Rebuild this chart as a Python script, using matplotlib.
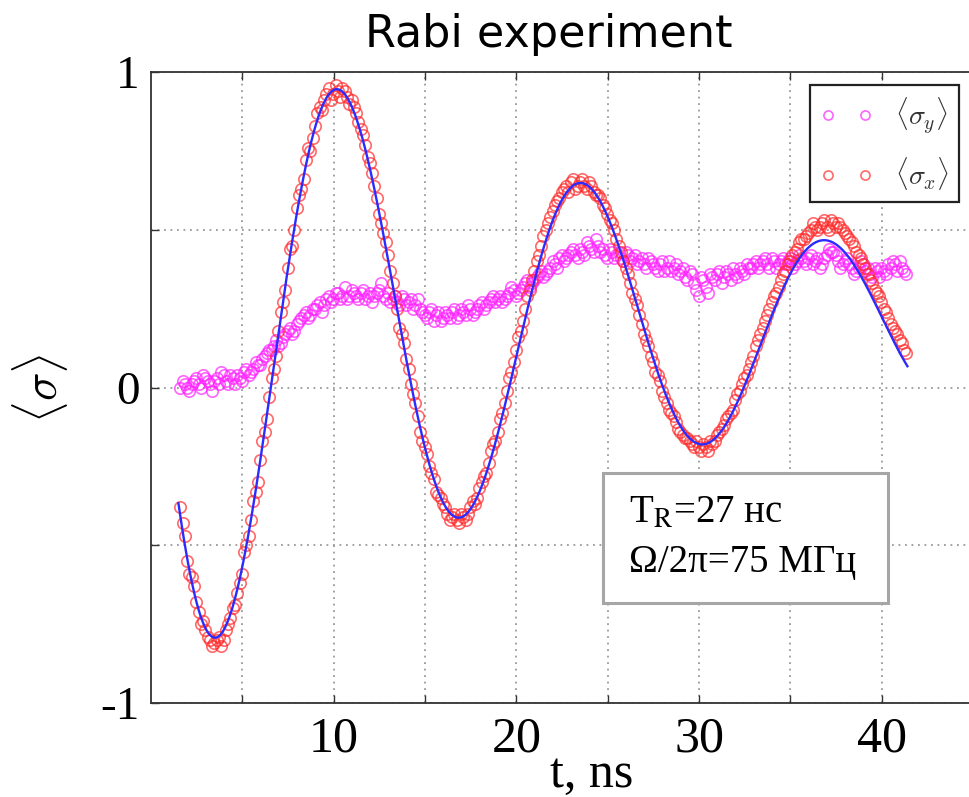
import numpy as np
import matplotlib
matplotlib.use("Agg")
import matplotlib.pyplot as plt
from matplotlib.patches import Rectangle
from matplotlib.ticker import FuncFormatter

# ---- measured data: samples every 0.125 ns starting at 1.6 ns ----
t_start_ns = 1.6
t_step_ns = 0.125

sigma_x = [
    -0.38, -0.43, -0.47, -0.55, -0.59, -0.60, -0.63, -0.68, -0.71, -0.75,
    -0.74, -0.77, -0.79, -0.80, -0.82, -0.81, -0.80, -0.79, -0.82, -0.80,
    -0.77, -0.75, -0.73, -0.70, -0.69, -0.65, -0.62, -0.59, -0.52, -0.50,
    -0.47, -0.42, -0.36, -0.33, -0.30, -0.23, -0.17, -0.14, -0.10, -0.03,
    0.03, 0.06, 0.10, 0.18, 0.24, 0.27, 0.31, 0.38, 0.44, 0.45,
    0.50, 0.57, 0.61, 0.63, 0.66, 0.72, 0.76, 0.75, 0.79, 0.83,
    0.87, 0.89, 0.88, 0.91, 0.93, 0.95, 0.91, 0.93, 0.96, 0.94,
    0.92, 0.95, 0.94, 0.92, 0.90, 0.91, 0.89, 0.87, 0.84, 0.82,
    0.80, 0.77, 0.73, 0.71, 0.68, 0.64, 0.60, 0.55, 0.52, 0.49,
    0.46, 0.42, 0.37, 0.33, 0.29, 0.25, 0.19, 0.17, 0.14, 0.09,
    0.06, 0.01, -0.02, -0.05, -0.09, -0.14, -0.17, -0.19, -0.21, -0.25,
    -0.27, -0.29, -0.33, -0.34, -0.35, -0.37, -0.38, -0.40, -0.42, -0.41,
    -0.40, -0.42, -0.43, -0.40, -0.41, -0.42, -0.40, -0.38, -0.36, -0.37,
    -0.35, -0.32, -0.30, -0.28, -0.27, -0.24, -0.20, -0.18, -0.17, -0.14,
    -0.10, -0.08, -0.05, -0.01, 0.03, 0.05, 0.08, 0.12, 0.16, 0.18,
    0.21, 0.25, 0.29, 0.31, 0.34, 0.37, 0.40, 0.42, 0.45, 0.48,
    0.50, 0.52, 0.54, 0.56, 0.58, 0.59, 0.60, 0.62, 0.63, 0.64,
    0.62, 0.65, 0.66, 0.63, 0.64, 0.65, 0.66, 0.64, 0.63, 0.65,
    0.64, 0.62, 0.61, 0.61, 0.60, 0.58, 0.57, 0.55, 0.53, 0.52,
    0.50, 0.47, 0.45, 0.43, 0.40, 0.38, 0.36, 0.33, 0.30, 0.28,
    0.26, 0.23, 0.20, 0.17, 0.15, 0.13, 0.10, 0.08, 0.05, 0.04,
    0.02, -0.01, -0.03, -0.05, -0.07, -0.08, -0.09, -0.11, -0.13, -0.14,
    -0.15, -0.16, -0.16, -0.17, -0.18, -0.19, -0.17, -0.19, -0.20, -0.18,
    -0.19, -0.20, -0.17, -0.18, -0.17, -0.15, -0.14, -0.13, -0.12, -0.10,
    -0.09, -0.08, -0.07, -0.04, -0.02, -0.01, 0.01, 0.03, 0.04, 0.06,
    0.08, 0.10, 0.13, 0.15, 0.17, 0.19, 0.21, 0.23, 0.25, 0.27,
    0.29, 0.30, 0.32, 0.34, 0.36, 0.37, 0.39, 0.40, 0.42, 0.43,
    0.44, 0.46, 0.47, 0.47, 0.48, 0.49, 0.50, 0.52, 0.51, 0.50,
    0.51, 0.52, 0.53, 0.51, 0.50, 0.53, 0.52, 0.51, 0.52, 0.51,
    0.50, 0.49, 0.48, 0.47, 0.46, 0.45, 0.43, 0.42, 0.41, 0.39,
    0.38, 0.36, 0.34, 0.33, 0.31, 0.30, 0.29, 0.27, 0.25, 0.24,
    0.22, 0.20, 0.19, 0.18, 0.17, 0.15, 0.14, 0.12, 0.11,
]

sigma_y = [
    0.00, 0.02, 0.01, 0.00, -0.01, 0.01, 0.02, 0.03, 0.01, 0.00,
    0.04, 0.03, 0.02, 0.01, -0.01, 0.02, 0.03, 0.01, 0.05, 0.04,
    0.02, 0.01, 0.04, 0.03, 0.01, 0.04, 0.03, 0.02, 0.05, 0.06,
    0.04, 0.05, 0.06, 0.08, 0.07, 0.07, 0.09, 0.10, 0.11, 0.12,
    0.12, 0.13, 0.15, 0.13, 0.14, 0.16, 0.17, 0.18, 0.19, 0.17,
    0.18, 0.20, 0.21, 0.22, 0.23, 0.24, 0.22, 0.23, 0.25, 0.25,
    0.26, 0.27, 0.24, 0.26, 0.28, 0.29, 0.27, 0.28, 0.30, 0.30,
    0.28, 0.29, 0.32, 0.28, 0.29, 0.31, 0.30, 0.29, 0.28, 0.30,
    0.31, 0.28, 0.29, 0.30, 0.27, 0.29, 0.30, 0.31, 0.33, 0.29,
    0.28, 0.30, 0.27, 0.28, 0.29, 0.27, 0.26, 0.29, 0.28, 0.26,
    0.27, 0.28, 0.25, 0.26, 0.28, 0.25, 0.24, 0.23, 0.22, 0.24,
    0.25, 0.21, 0.23, 0.24, 0.21, 0.22, 0.24, 0.23, 0.22, 0.24,
    0.25, 0.22, 0.23, 0.25, 0.24, 0.23, 0.26, 0.25, 0.23, 0.24,
    0.25, 0.26, 0.27, 0.25, 0.26, 0.27, 0.28, 0.29, 0.27, 0.28,
    0.29, 0.27, 0.28, 0.29, 0.30, 0.32, 0.31, 0.29, 0.30, 0.31,
    0.32, 0.33, 0.34, 0.32, 0.33, 0.34, 0.35, 0.36, 0.37, 0.35,
    0.36, 0.37, 0.38, 0.40, 0.39, 0.38, 0.41, 0.42, 0.40, 0.41,
    0.42, 0.43, 0.44, 0.42, 0.41, 0.44, 0.43, 0.42, 0.46, 0.45,
    0.44, 0.43, 0.47, 0.45, 0.43, 0.44, 0.42, 0.41, 0.44, 0.43,
    0.41, 0.42, 0.43, 0.41, 0.40, 0.43, 0.42, 0.40, 0.41, 0.42,
    0.39, 0.40, 0.41, 0.39, 0.38, 0.41, 0.40, 0.39, 0.38, 0.37,
    0.39, 0.40, 0.37, 0.38, 0.40, 0.37, 0.38, 0.39, 0.36, 0.37,
    0.38, 0.35, 0.34, 0.37, 0.36, 0.33, 0.31, 0.29, 0.35, 0.34,
    0.32, 0.30, 0.36, 0.35, 0.34, 0.36, 0.37, 0.33, 0.35, 0.37,
    0.36, 0.34, 0.38, 0.36, 0.35, 0.38, 0.37, 0.36, 0.39, 0.38,
    0.38, 0.39, 0.40, 0.38, 0.39, 0.40, 0.41, 0.39, 0.38, 0.41,
    0.40, 0.38, 0.39, 0.40, 0.41, 0.39, 0.40, 0.41, 0.38, 0.39,
    0.40, 0.42, 0.41, 0.40, 0.39, 0.41, 0.42, 0.39, 0.40, 0.41,
    0.38, 0.39, 0.41, 0.42, 0.44, 0.43, 0.43, 0.42, 0.40, 0.38,
    0.39, 0.40, 0.41, 0.39, 0.38, 0.36, 0.37, 0.38, 0.40, 0.39,
    0.37, 0.38, 0.36, 0.35, 0.38, 0.37, 0.35, 0.38, 0.37, 0.36,
    0.39, 0.38, 0.40, 0.39, 0.37, 0.40, 0.38, 0.37, 0.36,
]

# ---- damped Rabi fit ----
T_R_ns = 27.0            # decay time
rabi_freq_mhz = 75.0     # Omega / 2pi
fit_amp = 0.973
fit_offset = 0.183
fit_t_min = 3.67         # time of the first minimum, ns
fit_t_range = (1.5, 41.4)

x_label_values = [10, 20, 30, 40]
y_label_values = [-1, 0, 1]

plt.rcParams["font.family"] = ["Liberation Serif", "DejaVu Serif"]
plt.rcParams["mathtext.fontset"] = "cm"
plt.rcParams["axes.unicode_minus"] = False

W, H = 970, 797
fig = plt.figure(figsize=(W / 100, H / 100), dpi=100)
ax = fig.add_axes([151 / W, (H - 703) / H, 877 / W, 631 / H])

t = t_start_ns + t_step_ns * np.arange(len(sigma_x))
t_fit = np.linspace(fit_t_range[0], fit_t_range[1], 600)
omega = 2 * np.pi * rabi_freq_mhz * 1e-3
u = t_fit - fit_t_min
x_fit = fit_offset - fit_amp * np.exp(-u / T_R_ns) * np.cos(omega * u)

ax.plot(t, sigma_y, "o", ls="none", mfc="none", mec="#ff22ff", ms=8.2,
        mew=1.2, alpha=0.7, zorder=2, label=r"$\langle\sigma_y\rangle$")
ax.plot(t, sigma_x, "o", ls="none", mfc="none", mec="#ff2a2a", ms=8.2,
        mew=1.2, alpha=0.7, zorder=3, label=r"$\langle\sigma_x\rangle$")
ax.plot(t_fit, x_fit, color="#2b2bff", lw=1.7, zorder=4)

ax.set_xlim(0, 48)
ax.set_ylim(-1, 1)
ax.set_xticks(np.arange(5, 48, 5))
ax.set_yticks(np.arange(-1, 1.01, 0.5))
ax.xaxis.set_major_formatter(FuncFormatter(
    lambda v, p: str(int(round(v))) if int(round(v)) in x_label_values else ""))
ax.yaxis.set_major_formatter(FuncFormatter(
    lambda v, p: str(int(round(v))) if abs(v - round(v)) < 1e-6 and int(round(v)) in y_label_values else ""))
ax.tick_params(axis="both", direction="in", length=6, width=1.0,
               top=True, right=True, colors="#333333", labelcolor="black")
ax.tick_params(axis="x", labelsize=36, pad=9)
ax.tick_params(axis="y", labelsize=34, pad=8)
ax.grid(True, color="#9a9a9a", lw=1.3, linestyle=(0, (1, 2.6)))
for s in ax.spines.values():
    s.set_color("#333333")
    s.set_linewidth(1.3)

# titles and axis labels
fig.text(549 / W, (H - 47) / H, "Rabi experiment", family="DejaVu Sans",
         fontsize=32, ha="center", va="baseline")
fig.text(592 / W, (H - 787) / H, "t, ns", fontsize=36, ha="center",
         va="baseline")
fig.text(40 / W, 1 - 389 / H, r"$\langle\sigma\rangle$", fontsize=34,
         rotation=90, ha="center", va="center")

# legend
leg = ax.legend(loc="upper right", bbox_to_anchor=(959 / W, 1 - 85 / H),
                bbox_transform=fig.transFigure, borderaxespad=0,
                numpoints=2, fontsize=20, markerscale=0.8,
                handlelength=1.93, handletextpad=0.78, borderpad=0.35,
                labelspacing=0.7, fancybox=False, framealpha=1,
                edgecolor="#222222")
leg.get_frame().set_linewidth(1.6)
for txt in leg.get_texts():
    txt.set_color("#333333")

# parameter box
fig.patches.append(Rectangle((603 / W, 1 - 603 / H), 285 / W, 130 / H,
                             transform=fig.transFigure, fill=True,
                             facecolor="white", edgecolor="#a6a6a6",
                             lw=2.2, zorder=5))
fig.text(629 / W, 1 - 523 / H, r"T$_{\mathrm{R}}$=%d нс" % T_R_ns,
         fontsize=28, math_fontfamily="stix", zorder=6)
fig.text(629 / W, 1 - 572 / H, "Ω/2π=%d МГц" % rabi_freq_mhz,
         fontsize=28, zorder=6)

fig.savefig("out.png", dpi=100)
